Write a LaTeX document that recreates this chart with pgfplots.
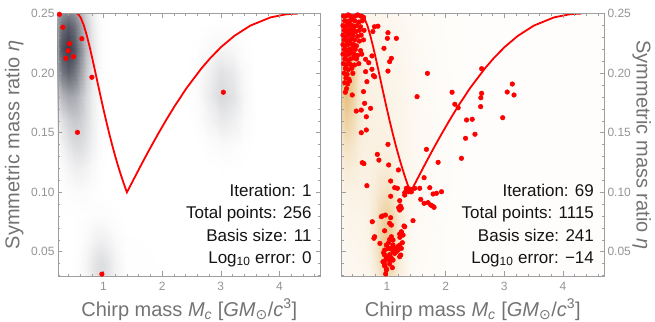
\documentclass[border=0pt]{standalone}
\usepackage{fontspec}
\setmainfont{Liberation Sans}
\newfontfamily\djv{DejaVu Sans}
\usepackage{pgfplots}
\usepackage{pgfplotstable}
\pgfplotsset{compat=1.18}
\definecolor{frame}{gray}{0.62}
\definecolor{ticktext}{gray}{0.58}
\definecolor{labeltext}{gray}{0.45}
\definecolor{infotext}{gray}{0.08}
\pgfplotsset{
 colormap={greyblob}{rgb255=(255,255,255) rgb255=(32,36,52)},
 colormap={goldblob}{rgb255=(255,255,255) rgb255=(215,150,40)},
}
\tikzset{info/.style={anchor=base east, inner sep=0pt, font=\fontsize{17bp}{20bp}\selectfont, text=infotext}}
% left density (x nodes: 0.2 0.3 0.4 0.5 0.6 0.7 0.8 0.9 1.0 1.1 1.2 1.4 2.4 2.6 2.8 3.0 3.2 3.4 3.6 4.8)
\pgfplotstableread{
x y v
0.2 0.029 0
0.3 0.029 0
0.4 0.029 0
0.5 0.029 0.004
0.6 0.029 0.016
0.7 0.029 0.048
0.8 0.029 0.099
0.9 0.029 0.146
1.0 0.029 0.150
1.1 0.029 0.110
1.2 0.029 0.057
1.4 0.029 0.005
2.4 0.029 0
2.6 0.029 0
2.8 0.029 0
3.0 0.029 0
3.2 0.029 0
3.4 0.029 0
3.6 0.029 0
4.8 0.029 0
0.2 0.04 0
0.3 0.04 0
0.4 0.04 0
0.5 0.04 0.004
0.6 0.04 0.016
0.7 0.04 0.048
0.8 0.04 0.099
0.9 0.04 0.146
1.0 0.04 0.150
1.1 0.04 0.110
1.2 0.04 0.057
1.4 0.04 0.005
2.4 0.04 0
2.6 0.04 0
2.8 0.04 0
3.0 0.04 0
3.2 0.04 0
3.4 0.04 0
3.6 0.04 0
4.8 0.04 0
0.2 0.05 0
0.3 0.05 0
0.4 0.05 0
0.5 0.05 0.003
0.6 0.05 0.013
0.7 0.05 0.037
0.8 0.05 0.077
0.9 0.05 0.113
1.0 0.05 0.116
1.1 0.05 0.085
1.2 0.05 0.044
1.4 0.05 0.004
2.4 0.05 0
2.6 0.05 0
2.8 0.05 0
3.0 0.05 0
3.2 0.05 0
3.4 0.05 0
3.6 0.05 0
4.8 0.05 0
0.2 0.06 0
0.3 0.06 0
0.4 0.06 0
0.5 0.06 0.002
0.6 0.06 0.008
0.7 0.06 0.023
0.8 0.06 0.047
0.9 0.06 0.069
1.0 0.06 0.071
1.1 0.06 0.052
1.2 0.06 0.027
1.4 0.06 0.003
2.4 0.06 0
2.6 0.06 0
2.8 0.06 0
3.0 0.06 0
3.2 0.06 0
3.4 0.06 0
3.6 0.06 0
4.8 0.06 0
0.2 0.08 0
0.3 0.08 0.001
0.4 0.08 0.002
0.5 0.08 0.002
0.6 0.08 0.004
0.7 0.08 0.006
0.8 0.08 0.009
0.9 0.08 0.012
1.0 0.08 0.012
1.1 0.08 0.009
1.2 0.08 0.005
1.4 0.08 0
2.4 0.08 0
2.6 0.08 0
2.8 0.08 0
3.0 0.08 0
3.2 0.08 0
3.4 0.08 0
3.6 0.08 0
4.8 0.08 0
0.2 0.10 0.002
0.3 0.10 0.005
0.4 0.10 0.012
0.5 0.10 0.018
0.6 0.10 0.019
0.7 0.10 0.015
0.8 0.10 0.008
0.9 0.10 0.003
1.0 0.10 0.001
1.1 0.10 0
1.2 0.10 0
1.4 0.10 0
2.4 0.10 0
2.6 0.10 0
2.8 0.10 0
3.0 0.10 0
3.2 0.10 0
3.4 0.10 0
3.6 0.10 0
4.8 0.10 0
0.2 0.12 0.009
0.3 0.12 0.023
0.4 0.12 0.048
0.5 0.12 0.071
0.6 0.12 0.075
0.7 0.12 0.057
0.8 0.12 0.030
0.9 0.12 0.011
1.0 0.12 0.003
1.1 0.12 0.001
1.2 0.12 0
1.4 0.12 0
2.4 0.12 0
2.6 0.12 0
2.8 0.12 0
3.0 0.12 0.003
3.2 0.12 0.002
3.4 0.12 0
3.6 0.12 0
4.8 0.12 0
0.2 0.14 0.027
0.3 0.14 0.061
0.4 0.14 0.114
0.5 0.14 0.158
0.6 0.14 0.161
0.7 0.14 0.120
0.8 0.14 0.063
0.9 0.14 0.024
1.0 0.14 0.006
1.1 0.14 0.001
1.2 0.14 0
1.4 0.14 0
2.4 0.14 0
2.6 0.14 0.002
2.8 0.14 0.012
3.0 0.14 0.024
3.2 0.14 0.018
3.4 0.14 0.005
3.6 0.14 0
4.8 0.14 0
0.2 0.16 0.079
0.3 0.16 0.139
0.4 0.16 0.205
0.5 0.16 0.243
0.6 0.16 0.222
0.7 0.16 0.155
0.8 0.16 0.079
0.9 0.16 0.029
1.0 0.16 0.007
1.1 0.16 0.001
1.2 0.16 0
1.4 0.16 0
2.4 0.16 0
2.6 0.16 0.009
2.8 0.16 0.048
3.0 0.16 0.097
3.2 0.16 0.072
3.4 0.16 0.020
3.6 0.16 0
4.8 0.16 0
0.2 0.18 0.213
0.3 0.18 0.323
0.4 0.18 0.393
0.5 0.18 0.381
0.6 0.18 0.293
0.7 0.18 0.178
0.8 0.18 0.082
0.9 0.18 0.029
1.0 0.18 0.008
1.1 0.18 0.001
1.2 0.18 0
1.4 0.18 0
2.4 0.18 0
2.6 0.18 0.016
2.8 0.18 0.086
3.0 0.18 0.173
3.2 0.18 0.128
3.4 0.18 0.035
3.6 0.18 0
4.8 0.18 0
0.2 0.20 0.420
0.3 0.20 0.615
0.4 0.20 0.705
0.5 0.20 0.632
0.6 0.20 0.445
0.7 0.20 0.244
0.8 0.20 0.104
0.9 0.20 0.034
1.0 0.20 0.009
1.1 0.20 0.001
1.2 0.20 0
1.4 0.20 0
2.4 0.20 0
2.6 0.20 0.012
2.8 0.20 0.067
3.0 0.20 0.135
3.2 0.20 0.100
3.4 0.20 0.027
3.6 0.20 0
4.8 0.20 0
0.2 0.22 0.545
0.3 0.22 0.792
0.4 0.22 0.898
0.5 0.22 0.792
0.6 0.22 0.549
0.7 0.22 0.296
0.8 0.22 0.124
0.9 0.22 0.041
1.0 0.22 0.010
1.1 0.22 0.002
1.2 0.22 0
1.4 0.22 0
2.4 0.22 0
2.6 0.22 0.004
2.8 0.22 0.023
3.0 0.22 0.046
3.2 0.22 0.034
3.4 0.22 0.009
3.6 0.22 0
4.8 0.22 0
0.2 0.24 0.456
0.3 0.24 0.663
0.4 0.24 0.752
0.5 0.24 0.663
0.6 0.24 0.456
0.7 0.24 0.244
0.8 0.24 0.102
0.9 0.24 0.033
1.0 0.24 0.008
1.1 0.24 0.002
1.2 0.24 0
1.4 0.24 0
2.4 0.24 0
2.6 0.24 0
2.8 0.24 0.003
3.0 0.24 0.007
3.2 0.24 0.005
3.4 0.24 0.001
3.6 0.24 0
4.8 0.24 0
0.2 0.25 0.353
0.3 0.25 0.513
0.4 0.25 0.582
0.5 0.25 0.513
0.6 0.25 0.353
0.7 0.25 0.189
0.8 0.25 0.079
0.9 0.25 0.026
1.0 0.25 0.006
1.1 0.25 0.001
1.2 0.25 0
1.4 0.25 0
2.4 0.25 0
2.6 0.25 0
2.8 0.25 0
3.0 0.25 0
3.2 0.25 0
3.4 0.25 0
3.6 0.25 0
4.8 0.25 0
}\densL
% right density (x nodes: 0.2 0.3 0.4 0.5 0.6 0.7 0.8 0.9 1.0 1.1 1.2 1.4 1.6 2.0 2.5 3.0 3.5 4.8)
\pgfplotstableread{
x y v
0.2 0.029 0.056
0.3 0.029 0.061
0.4 0.029 0.066
0.5 0.029 0.070
0.6 0.029 0.074
0.7 0.029 0.092
0.8 0.029 0.157
0.9 0.029 0.273
1.0 0.029 0.339
1.1 0.029 0.264
1.2 0.029 0.141
1.4 0.029 0.046
1.6 0.029 0.034
2.0 0.029 0.021
2.5 0.029 0.016
3.0 0.029 0.015
3.5 0.029 0.015
4.8 0.029 0.015
0.2 0.04 0.062
0.3 0.04 0.068
0.4 0.04 0.073
0.5 0.04 0.077
0.6 0.04 0.083
0.7 0.04 0.106
0.8 0.04 0.192
0.9 0.04 0.345
1.0 0.04 0.433
1.1 0.04 0.336
1.2 0.04 0.174
1.4 0.04 0.051
1.6 0.04 0.036
2.0 0.04 0.021
2.5 0.04 0.016
3.0 0.04 0.015
3.5 0.04 0.015
4.8 0.04 0.015
0.2 0.05 0.067
0.3 0.05 0.073
0.4 0.05 0.079
0.5 0.05 0.084
0.6 0.05 0.091
0.7 0.05 0.118
0.8 0.05 0.219
0.9 0.05 0.401
1.0 0.05 0.505
1.1 0.05 0.390
1.2 0.05 0.199
1.4 0.05 0.056
1.6 0.05 0.039
2.0 0.05 0.022
2.5 0.05 0.016
3.0 0.05 0.015
3.5 0.05 0.015
4.8 0.05 0.015
0.2 0.06 0.072
0.3 0.06 0.079
0.4 0.06 0.085
0.5 0.06 0.091
0.6 0.06 0.098
0.7 0.06 0.127
0.8 0.06 0.234
0.9 0.06 0.426
1.0 0.06 0.536
1.1 0.06 0.414
1.2 0.06 0.212
1.4 0.06 0.059
1.6 0.06 0.041
2.0 0.06 0.023
2.5 0.06 0.016
3.0 0.06 0.015
3.5 0.06 0.015
4.8 0.06 0.015
0.2 0.08 0.085
0.3 0.08 0.096
0.4 0.08 0.102
0.5 0.08 0.106
0.6 0.08 0.111
0.7 0.08 0.134
0.8 0.08 0.220
0.9 0.08 0.372
1.0 0.08 0.458
1.1 0.08 0.358
1.2 0.08 0.193
1.4 0.08 0.066
1.6 0.08 0.045
2.0 0.08 0.024
2.5 0.08 0.016
3.0 0.08 0.015
3.5 0.08 0.015
4.8 0.08 0.015
0.2 0.10 0.107
0.3 0.10 0.124
0.4 0.10 0.125
0.5 0.10 0.121
0.6 0.10 0.123
0.7 0.10 0.134
0.8 0.10 0.177
0.9 0.10 0.253
1.0 0.10 0.293
1.1 0.10 0.238
1.2 0.10 0.147
1.4 0.10 0.071
1.6 0.10 0.049
2.0 0.10 0.025
2.5 0.10 0.016
3.0 0.10 0.015
3.5 0.10 0.015
4.8 0.10 0.015
0.2 0.12 0.148
0.3 0.12 0.181
0.4 0.12 0.168
0.5 0.12 0.143
0.6 0.12 0.132
0.7 0.12 0.134
0.8 0.12 0.147
0.9 0.12 0.169
1.0 0.12 0.177
1.1 0.12 0.152
1.2 0.12 0.115
1.4 0.12 0.074
1.6 0.12 0.052
2.0 0.12 0.026
2.5 0.12 0.016
3.0 0.12 0.015
3.5 0.12 0.015
4.8 0.12 0.015
0.2 0.14 0.226
0.3 0.14 0.289
0.4 0.14 0.247
0.5 0.14 0.173
0.6 0.14 0.140
0.7 0.14 0.136
0.8 0.14 0.136
0.9 0.14 0.138
1.0 0.14 0.135
1.1 0.14 0.120
1.2 0.14 0.103
1.4 0.14 0.075
1.6 0.14 0.054
2.0 0.14 0.026
2.5 0.14 0.016
3.0 0.14 0.015
3.5 0.14 0.015
4.8 0.14 0.015
0.2 0.16 0.335
0.3 0.16 0.444
0.4 0.16 0.356
0.5 0.16 0.212
0.6 0.16 0.147
0.7 0.16 0.135
0.8 0.16 0.132
0.9 0.16 0.128
1.0 0.16 0.122
1.1 0.16 0.110
1.2 0.16 0.099
1.4 0.16 0.075
1.6 0.16 0.054
2.0 0.16 0.026
2.5 0.16 0.016
3.0 0.16 0.015
3.5 0.16 0.015
4.8 0.16 0.015
0.2 0.18 0.439
0.3 0.18 0.592
0.4 0.18 0.459
0.5 0.18 0.245
0.6 0.18 0.149
0.7 0.18 0.132
0.8 0.18 0.128
0.9 0.18 0.124
1.0 0.18 0.116
1.1 0.18 0.107
1.2 0.18 0.096
1.4 0.18 0.073
1.6 0.18 0.052
2.0 0.18 0.026
2.5 0.18 0.016
3.0 0.18 0.015
3.5 0.18 0.015
4.8 0.18 0.015
0.2 0.20 0.479
0.3 0.20 0.650
0.4 0.20 0.497
0.5 0.20 0.253
0.6 0.20 0.144
0.7 0.20 0.123
0.8 0.20 0.120
0.9 0.20 0.115
1.0 0.20 0.108
1.1 0.20 0.100
1.2 0.20 0.090
1.4 0.20 0.069
1.6 0.20 0.049
2.0 0.20 0.025
2.5 0.20 0.016
3.0 0.20 0.015
3.5 0.20 0.015
4.8 0.20 0.015
0.2 0.22 0.424
0.3 0.22 0.575
0.4 0.22 0.441
0.5 0.22 0.225
0.6 0.22 0.129
0.7 0.22 0.111
0.8 0.22 0.108
0.9 0.22 0.104
1.0 0.22 0.098
1.1 0.22 0.090
1.2 0.22 0.081
1.4 0.22 0.063
1.6 0.22 0.045
2.0 0.22 0.024
2.5 0.22 0.016
3.0 0.22 0.015
3.5 0.22 0.015
4.8 0.22 0.015
0.2 0.24 0.308
0.3 0.24 0.413
0.4 0.24 0.321
0.5 0.24 0.175
0.6 0.24 0.109
0.7 0.24 0.096
0.8 0.24 0.094
0.9 0.24 0.091
1.0 0.24 0.086
1.1 0.24 0.079
1.2 0.24 0.072
1.4 0.24 0.055
1.6 0.24 0.041
2.0 0.24 0.023
2.5 0.24 0.016
3.0 0.24 0.015
3.5 0.24 0.015
4.8 0.24 0.015
0.2 0.25 0.245
0.3 0.25 0.325
0.4 0.25 0.257
0.5 0.25 0.147
0.6 0.25 0.098
0.7 0.25 0.089
0.8 0.25 0.087
0.9 0.25 0.084
1.0 0.25 0.079
1.1 0.25 0.073
1.2 0.25 0.067
1.4 0.25 0.052
1.6 0.25 0.039
2.0 0.25 0.022
2.5 0.25 0.016
3.0 0.25 0.015
3.5 0.25 0.015
4.8 0.25 0.015
}\densR
% boundary curve
\pgfplotstableread{
x y
0.5467 0.25
0.5602 0.24985
0.5733 0.24943
0.6105 0.24691
0.6668 0.24
0.7177 0.2314
0.7641 0.22222
0.8070 0.21302
0.8471 0.20408
0.9201 0.1875
0.9857 0.17284
1.0457 0.16
1.1011 0.14876
1.1527 0.13889
1.2012 0.13018
1.2469 0.12245
1.2903 0.11556
1.3317 0.109375
1.3713 0.10381
1.4002 0.09993
1.4412 0.10381
1.4996 0.109375
1.565 0.11556
1.638 0.12245
1.721 0.13018
1.817 0.13889
1.929 0.14876
2.061 0.16
2.220 0.17284
2.417 0.1875
2.671 0.20408
2.827 0.21302
3.011 0.22222
3.232 0.2314
3.504 0.24
3.849 0.24691
4.108 0.24943
4.205 0.24985
4.309 0.25
}\curve
\pgfplotsset{
 panel/.style={
  scale only axis, width=262.5bp, height=262.3bp,
  xmin=0.225, xmax=4.70, ymin=0.0296, ymax=0.25,
  axis on top, clip=true,
  point meta min=0, point meta max=1,
  xtick={1,2,3,4}, ytick={0.05,0.10,0.15,0.20,0.25},
  minor xtick={0.4,0.6,0.8,1.2,1.4,1.6,1.8,2.2,2.4,2.6,2.8,3.2,3.4,3.6,3.8,4.2,4.4,4.6},
  minor ytick={0.03,0.04,0.06,0.07,0.08,0.09,0.11,0.12,0.13,0.14,0.16,0.17,0.18,0.19,0.21,0.22,0.23,0.24},
  tick align=inside, xtick pos=both, ytick pos=both, xticklabel pos=lower,
  major tick length=4.5bp, minor tick length=2.5bp,
  axis line style={draw=frame, line width=0.6bp},
  every tick/.style={draw=frame, line width=0.5bp},
  every minor tick/.style={draw=frame, line width=0.4bp},
  /pgf/number format/assume math mode=true,
  tick label style={font=\fontsize{12bp}{14bp}\selectfont, text=ticktext},
  xticklabel style={yshift=-3bp},
  yticklabel style={/pgf/number format/fixed, /pgf/number format/fixed zerofill, /pgf/number format/precision=2},
  label style={font=\fontsize{20bp}{23bp}\selectfont, text=labeltext},
  xlabel={Chirp mass \textit{M}\textsubscript{\textit{c}} [\textit{GM}\textsubscript{\djv ⊙}/\textit{c}\textsuperscript{3}]},
  xlabel style={at={(axis description cs:0.5,-0.1525)}, anchor=base},
  ylabel={Symmetric mass ratio \textit{η}},
 },
 dots/.style={only marks, mark=*, mark size=2.3bp, mark options={solid, fill=red, draw=red, line width=0.5bp}},
}
\begin{document}
\begin{tikzpicture}
\begin{axis}[panel, at={(0,0)}, anchor=south west, colormap name=greyblob,
  ylabel style={at={(axis description cs:-0.1467,0.5)}, anchor=base}]
\addplot[surf, shader=interp, mesh/cols=20, point meta=\thisrow{v}] table[x=x, y=y] {\densL};
\addplot[red, line width=1.8bp] table[x=x, y=y] {\curve};
\addplot[red, line width=1.2bp] coordinates {(0.225,0.25) (4.309,0.25)};
\addplot[dots] coordinates {
(0.25,0.2495) (0.308,0.2386) (0.421,0.2248) (0.399,0.2189) (0.359,0.2125) (0.489,0.2139)
(0.632,0.229) (0.802,0.1966) (0.557,0.1503) (0.973,0.0312) (3.044,0.184)};
\node[info] at (axis description cs:0.9665,0.3023) {Iteration: 1};
\node[info] at (axis description cs:0.9665,0.2177) {Total points: 256};
\node[info] at (axis description cs:0.9665,0.1331) {Basis size: 11};
\node[info] at (axis description cs:0.9665,0.0484) {Log\textsubscript{10} error: 0};
\end{axis}
\begin{axis}[panel, at={(283.5bp,0)}, anchor=south west, colormap name=goldblob,
  yticklabel pos=right,
  ylabel style={at={(axis description cs:1.1238,0.5)}, anchor=base, rotate=180}]
\addplot[surf, shader=interp, mesh/cols=18, point meta=\thisrow{v}] table[x=x, y=y] {\densR};
\addplot[red, line width=1.8bp] table[x=x, y=y] {\curve};
\addplot[red, line width=1.2bp] coordinates {(0.225,0.25) (4.309,0.25)};
\addplot[dots] coordinates {
(0.26,0.248) (0.30,0.248) (0.34,0.249) (0.38,0.248) (0.42,0.247) (0.46,0.248) (0.50,0.249) (0.55,0.248) (0.60,0.247)
(0.28,0.244) (0.32,0.243) (0.36,0.244) (0.40,0.245) (0.45,0.244) (0.52,0.243) (0.58,0.244)
(0.25,0.240) (0.29,0.239) (0.33,0.240) (0.37,0.241) (0.41,0.240) (0.44,0.239) (0.49,0.240) (0.55,0.239)
(0.27,0.236) (0.31,0.235) (0.35,0.236) (0.39,0.237) (0.43,0.236) (0.47,0.235) (0.53,0.236) (0.61,0.236)
(0.25,0.232) (0.30,0.231) (0.34,0.232) (0.38,0.233) (0.42,0.232) (0.50,0.231) (0.56,0.232)
(0.27,0.228) (0.32,0.227) (0.36,0.228) (0.40,0.229) (0.45,0.228) (0.53,0.227) (0.60,0.228)
(0.25,0.224) (0.29,0.223) (0.33,0.224) (0.38,0.225) (0.43,0.224) (0.48,0.223)
(0.27,0.220) (0.31,0.219) (0.36,0.220) (0.41,0.221) (0.46,0.220) (0.55,0.219)
(0.25,0.216) (0.30,0.215) (0.35,0.216) (0.40,0.217) (0.44,0.216) (0.50,0.215) (0.57,0.216)
(0.28,0.212) (0.33,0.211) (0.38,0.212) (0.43,0.213) (0.48,0.212)
(0.26,0.208) (0.31,0.207) (0.36,0.208) (0.52,0.208)
(0.29,0.204) (0.34,0.203) (0.40,0.204)
(0.27,0.200) (0.32,0.199) (0.30,0.196) (0.35,0.195) (0.28,0.192) (0.33,0.191) (0.31,0.187) (0.29,0.184)
(0.787,0.239) (0.846,0.2395) (0.76,0.235) (1.017,0.234) (1.007,0.2293) (1.16,0.2293) (0.949,0.2209)
(1.075,0.2125) (1.046,0.2097) (1.017,0.2018)
(0.744,0.2145) (0.69,0.2088) (0.636,0.2117) (0.744,0.2033) (0.79,0.197) (0.77,0.198) (0.636,0.2013)
(0.658,0.1929) (0.60,0.1845) (0.408,0.1817) (0.362,0.1934) (0.419,0.1999) (0.448,0.2069) (0.391,0.2069)
(0.721,0.1705) (0.619,0.1747) (0.562,0.169) (0.477,0.1682) (0.648,0.1634) (0.648,0.1523) (0.562,0.150)
(1.017,0.1402) (0.836,0.1318) (0.863,0.127) (0.579,0.1248) (0.607,0.124) (1.029,0.1229) (1.195,0.1187)
(0.658,0.1055) (1.063,0.1094) (1.132,0.1038) (1.178,0.1033) (1.332,0.1027) (1.063,0.0966) (1.303,0.0976)
(1.217,0.0929) (1.2,0.087) (1.229,0.0884) (0.921,0.080) (0.973,0.0808) (1.063,0.0786) (0.75,0.0752)
(1.046,0.0739) (1.075,0.0724) (0.96,0.0676) (0.79,0.0626) (0.778,0.0613) (1.217,0.0649) (1.075,0.0626)
(1.103,0.0598)
(0.99,0.0556) (1.046,0.0528) (1.103,0.0556) (1.217,0.0556) (1.246,0.0528) (1.188,0.0514) (0.96,0.0514)
(1.017,0.0528) (1.16,0.050) (1.13,0.0486) (0.96,0.0472) (0.99,0.0444) (1.046,0.043) (1.234,0.0472)
(1.075,0.0444) (0.932,0.0416) (0.96,0.0388) (0.99,0.0346) (1.092,0.0366) (0.977,0.0313)
(0.88,0.057) (1.03,0.0576) (1.263,0.0576) (1.274,0.064) (1.246,0.0668) (1.303,0.071) (1.046,0.0604)
(0.943,0.0492) (1.046,0.0475) (1.103,0.050) (1.006,0.0447) (1.063,0.0453) (0.972,0.0425) (1.046,0.0397)
(1.217,0.0458) (1.103,0.043) (0.96,0.0381) (0.99,0.0358) (0.904,0.0794) (1.29,0.0716) (1.22,0.0621)
(1.25,0.0655) (1.19,0.0544) (1.132,0.0531) (1.075,0.0528)
(1.33,0.1033) (1.388,0.1027) (1.474,0.1033) (1.559,0.1033) (1.73,0.1038) (1.303,0.0996) (1.371,0.1004)
(1.417,0.1004) (1.576,0.094) (1.633,0.0907) (1.70,0.0912) (1.747,0.0892) (1.803,0.0873) (1.776,0.0884)
(1.786,0.0985) (1.844,0.0991) (1.93,0.1004) (1.246,0.0865) (1.217,0.085) (1.444,0.0761) (1.633,0.1122)
(1.673,0.136) (1.872,0.1251) (2.27,0.1285)
(1.69,0.1999) (1.513,0.1803) (2.11,0.184) (2.157,0.1739) (2.214,0.171) (2.614,0.2038) (2.614,0.1831)
(2.60,0.1794) (2.597,0.1719) (2.357,0.1607) (2.453,0.1613) (2.973,0.1626) (2.34,0.1453) (2.50,0.1487)
(3.137,0.1909) (3.05,0.1842) (3.166,0.1817)};
\node[info] at (axis description cs:0.9623,0.3023) {Iteration: 69};
\node[info] at (axis description cs:0.9623,0.2177) {Total points: 1115};
\node[info] at (axis description cs:0.9623,0.1331) {Basis size: 241};
\node[info] at (axis description cs:0.9623,0.0484) {Log\textsubscript{10} error: −14};
\end{axis}
\pgfresetboundingbox
\path[use as bounding box] (-58bp,-46bp) rectangle (597bp,276bp);
\end{tikzpicture}
\end{document}
